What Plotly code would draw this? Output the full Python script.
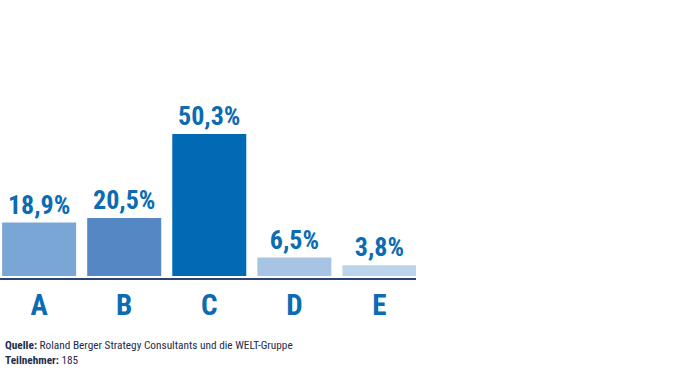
import plotly.graph_objects as go

categories = ["A", "B", "C", "D", "E"]
values = [18.9, 20.5, 50.3, 6.5, 3.8]
labels = ["18,9%", "20,5%", "50,3%", "6,5%", "3,8%"]
colors = ["#7aa6d5", "#5487c4", "#006bb4", "#a7c4e4", "#bcd3ec"]

FONT = "Liberation Sans Narrow, Arial Narrow, Roboto Condensed, sans-serif"
BLUE = "#0b6bb3"

fig = go.Figure(go.Bar(
    x=list(range(len(categories))),
    y=values,
    marker=dict(color=colors, line=dict(width=0)),
    width=0.87,
    text=labels,
    textposition="outside",
    textfont=dict(family=FONT, size=26, color=BLUE, weight="bold"),
    cliponaxis=False,
))

fig.update_layout(
    width=700, height=370,
    margin=dict(l=0, r=284, t=100, b=92),
    paper_bgcolor="white", plot_bgcolor="white",
    showlegend=False,
    xaxis=dict(
        range=[-0.46, 4.43],
        tickvals=list(range(len(categories))),
        ticktext=categories,
        tickfont=dict(family=FONT, size=29, color=BLUE, weight="bold"),
        showline=True, linecolor="#2b4675", linewidth=2,
        showgrid=False, zeroline=False, ticks="",
    ),
    yaxis=dict(range=[-0.75, 62.3], visible=False, showgrid=False, zeroline=False),
    annotations=[
        dict(xref="paper", yref="paper", x=0.007, y=-0.381, xanchor="left", yanchor="middle",
             text="<b>Quelle:</b> Roland Berger Strategy Consultants und die WELT-Gruppe",
             showarrow=False, font=dict(family=FONT, size=11.3, color="#1c2c4c")),
        dict(xref="paper", yref="paper", x=0.007, y=-0.466, xanchor="left", yanchor="middle",
             text="<b>Teilnehmer:</b> 185",
             showarrow=False, font=dict(family=FONT, size=11.3, color="#1c2c4c")),
    ],
)

fig.write_html("out.html", config={"displayModeBar": False},
               post_script="document.body.style.margin='0';document.body.style.overflow='hidden';")
